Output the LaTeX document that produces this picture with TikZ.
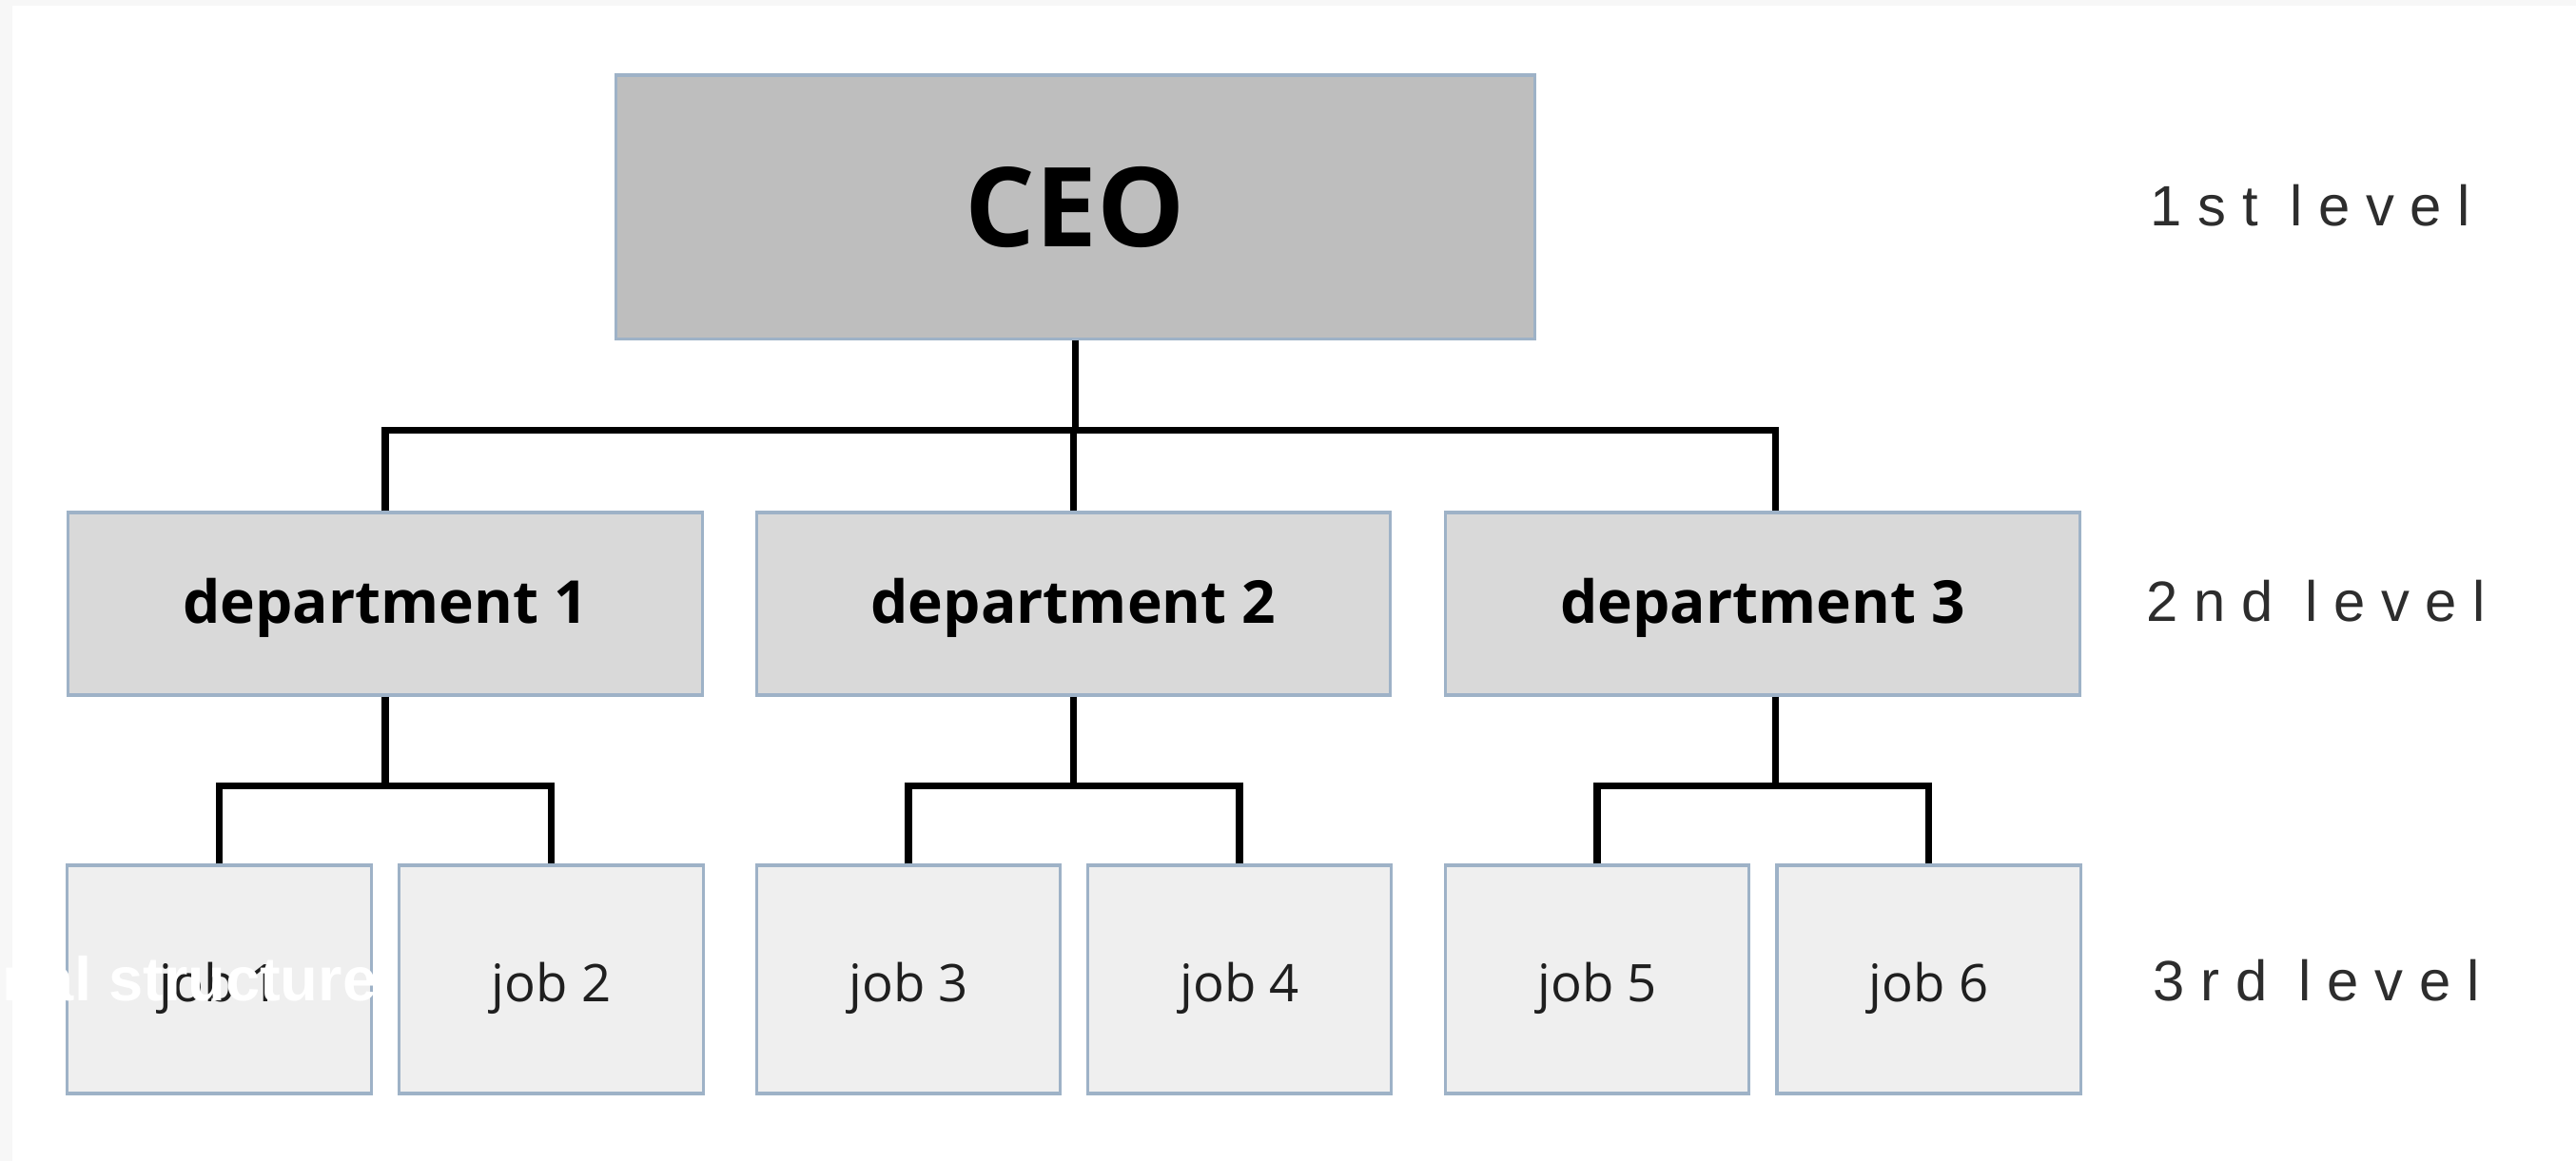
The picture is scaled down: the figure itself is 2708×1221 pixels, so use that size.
\documentclass[tikz,border=0pt]{standalone}
\usepackage{fontspec}
\setmainfont{Open Sans}
\newfontfamily\lvlfont[LetterSpace=28]{Liberation Sans}
\newfontfamily\capfont{Liberation Sans}
\definecolor{boxline}{RGB}{158,178,199}
\definecolor{ceofill}{RGB}{190,190,190}
\definecolor{depfill}{RGB}{217,217,217}
\definecolor{jobfill}{RGB}{239,239,239}
\definecolor{stripgrey}{RGB}{247,247,247}
\definecolor{lvltext}{RGB}{45,45,45}
\begin{document}
\begin{tikzpicture}[x=0.01cm,y=-0.01cm,
  boxbase/.style={draw=boxline,line width=0.9pt,inner sep=0pt,rectangle},
  ceobox/.style={boxbase,fill=ceofill,minimum width=9.65cm,minimum height=2.77cm,
     text height=0.93cm,text depth=0.1cm,
     font=\fontsize{33}{36}\selectfont\bfseries},
  depbox/.style={boxbase,fill=depfill,minimum width=6.66cm,minimum height=1.92cm,
     text height=0.5cm,text depth=0.1cm,
     font=\fontsize{17.7}{21}\selectfont\bfseries},
  jobbox/.style={boxbase,fill=jobfill,minimum width=3.19cm,minimum height=2.40cm,
     text height=0.56cm,text depth=0.1cm,
     font=\fontsize{15.5}{19}\selectfont,text=black!88},
  conn/.style={line width=2pt,black},
  lvl/.style={anchor=base west,inner sep=0pt,text=lvltext,font=\lvlfont\fontsize{17}{20}\selectfont}]
\useasboundingbox (0,0) rectangle (2708,1221);
\fill[white] (0,0) rectangle (2708,1221);
\fill[stripgrey] (0,0) rectangle (2708,6);
\fill[stripgrey] (0,0) rectangle (13,1221);

% nodes
\node[ceobox] (ceo) at (1130.5,217.5) {CEO};
\node[depbox] (d1) at (405,635) {department 1};
\node[depbox] (d2) at (1128.5,635) {department 2};
\node[depbox] (d3) at (1853,635) {department 3};
\node[jobbox] (j1) at (230.5,1030) {job 1};
\node[jobbox] (j2) at (579.5,1030) {job 2};
\node[jobbox] (j3) at (955,1030) {job 3};
\node[jobbox] (j4) at (1303,1030) {job 4};
\node[jobbox] (j5) at (1679,1030) {job 5};
\node[jobbox] (j6) at (2027.5,1030) {job 6};

% connectors
\coordinate (d3top) at ([xshift=0.13cm]d3.north);
\coordinate (d3bot) at ([xshift=0.13cm]d3.south);
\draw[conn] (ceo.south) -- ++(0,95) coordinate (bus);
\draw[conn] (d1.north) -- (d1.north |- bus) -- (d3top |- bus) -- (d3top);
\draw[conn] (d2.north) -- (d2.north |- bus);
\draw[conn] (d1.south) -- ++(0,94) coordinate (b1);
\draw[conn] (j1.north) |- (b1) -| (j2.north);
\draw[conn] (d2.south) -- ++(0,94) coordinate (b2);
\draw[conn] (j3.north) |- (b2) -| (j4.north);
\draw[conn] (d3bot) -- ++(0,94) coordinate (b3);
\draw[conn] (j5.north) |- (b3) -| (j6.north);

% level labels
\node[lvl] (l1) at (2260,237) {1st level};
\node[lvl] (l2) at (2256,653) {2nd level};
\node[lvl] (l3) at (2263,1052) {3rd level};

% overlaid caption fragment
\node[anchor=base east,inner sep=0pt,text=white,font=\capfont\fontsize{18.5}{22}\selectfont\bfseries] (cap) at (397,1052) {nal structure};
\end{tikzpicture}
\end{document}
